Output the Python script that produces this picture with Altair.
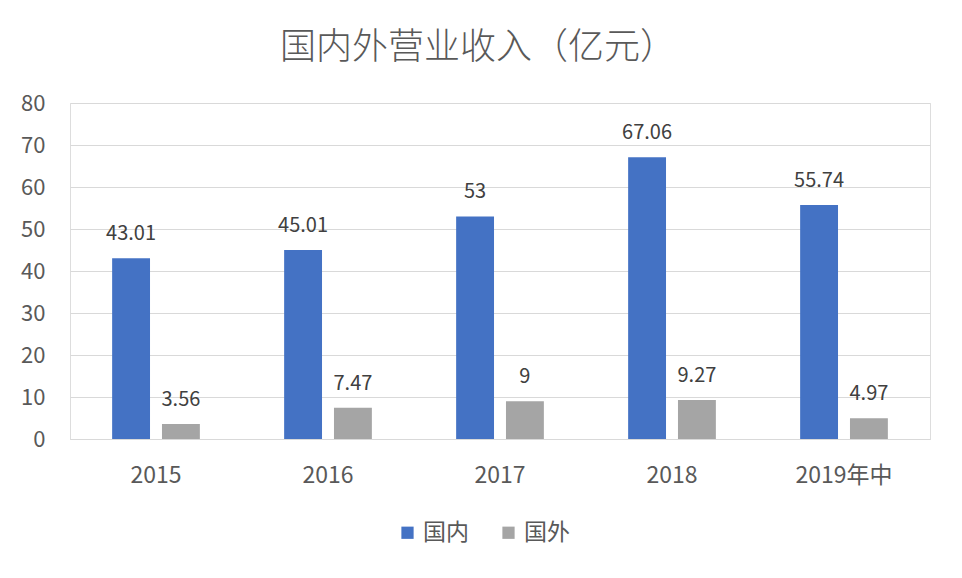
import altair as alt
import pandas as pd

years = ["2015", "2016", "2017", "2018", "2019年中"]
domestic = [43.01, 45.01, 53, 67.06, 55.74]
overseas = [3.56, 7.47, 9, 9.27, 4.97]
series = ["国内", "国外"]
colors = ["#4472C4", "#A5A5A5"]

rows = []
for i, y in enumerate(years):
    rows.append({"year": y, "series": series[0], "value": domestic[i], "label": f"{domestic[i]:g}"})
    rows.append({"year": y, "series": series[1], "value": overseas[i], "label": f"{overseas[i]:g}"})
df = pd.DataFrame(rows)

font = "Noto Sans CJK SC"
txt = "#595959"

base = alt.Chart(df).encode(
    x=alt.X(
        "year:N",
        sort=years,
        scale=alt.Scale(paddingInner=0.49, paddingOuter=0.245),
        axis=alt.Axis(
            title=None, labelAngle=0, ticks=False, domain=True, domainColor="#D9D9D9",
            labelFontSize=23, labelColor=txt, labelPadding=25, labelFont=font,
        ),
    ),
    xOffset=alt.XOffset("series:N", sort=series, scale=alt.Scale(paddingInner=0.24)),
    y=alt.Y(
        "value:Q",
        scale=alt.Scale(domain=[0, 80]),
        axis=alt.Axis(
            values=list(range(0, 81, 10)), title=None, domain=False, ticks=False,
            gridColor="#D9D9D9", gridWidth=1.2, labelFontSize=22, labelColor=txt,
            labelPadding=25, labelFont=font,
        ),
    ),
)

bars = base.mark_bar().encode(
    color=alt.Color(
        "series:N",
        sort=series,
        scale=alt.Scale(domain=series, range=colors),
        legend=alt.Legend(
            title=None, orient="none", legendX=326, legendY=418, direction="horizontal",
            symbolType="square", symbolSize=150, symbolStrokeWidth=0, labelOffset=4,
            labelFontSize=23, labelColor=txt, labelFont=font, columnPadding=28,
        ),
    )
)

labels = base.mark_text(
    baseline="bottom", dy=-14, fontSize=20, color="#404040", font=font
).encode(text="label:N")

chart = (
    alt.layer(bars, labels)
    .properties(
        width=860,
        height=336,
        autosize=alt.AutoSizeParams(type="none"),
        padding={"left": 62, "top": 95, "right": 20, "bottom": 120},
        title=alt.TitleParams(
            "国内外营业收入（亿元）", fontSize=36, font=font, color=txt,
            fontWeight=300, anchor="middle", dx=-22, offset=25,
        ),
    )
    .configure_view(stroke=None)
    .configure(background="white")
)

chart.save("out.html", embed_options={"renderer": "svg", "actions": False})
